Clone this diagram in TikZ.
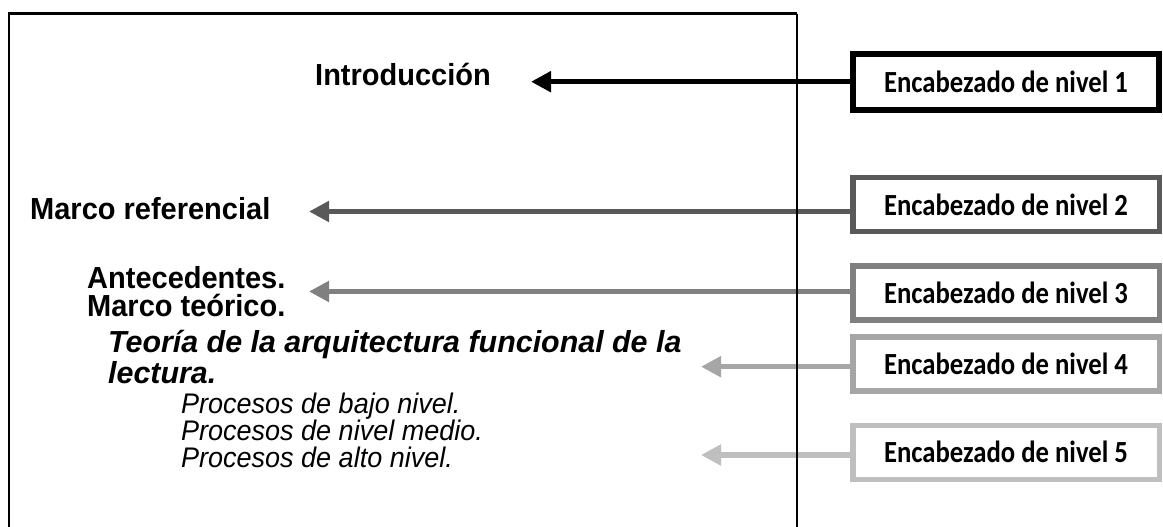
\documentclass[tikz,border=0pt]{standalone}
\usepackage{fontspec}
\usepackage{graphicx}
\setmainfont{Liberation Sans}
\newfontfamily\calib{Carlito}
\usetikzlibrary{arrows.meta}
\newcommand{\tallt}[1]{\scalebox{1}[1.05]{#1}}
\newcommand{\talll}[1]{\scalebox{1}[1.15]{#1}}
\begin{document}
\begin{tikzpicture}[x=1pt,y=-1pt,
  hbold/.style={anchor=base west, inner sep=0pt, font=\fontsize{29}{29}\selectfont\bfseries},
  hbi/.style={anchor=base west, inner sep=0pt, font=\fontsize{30.4}{30.4}\selectfont\bfseries\itshape},
  hit/.style={anchor=base west, inner sep=0pt, font=\fontsize{27}{27}\selectfont\itshape},
  lvlbox/.style={draw=#1, fill=white, line width=5.5pt, minimum width=306.5pt, minimum height=54pt, inner sep=0pt, font=\calib\fontsize{26.7}{26.7}\selectfont\bfseries},
  conn/.style={color=#1, line width=5.5pt, -{Triangle[length=20pt,width=20pt]}},
  pageline/.style={draw=black}
]
\useasboundingbox[fill=white] (0,0) rectangle (1163,527);

% level boxes
\node[lvlbox=black, line width=6pt, minimum width=306pt, minimum height=56pt] (b1) at (1006,82) {\talll{Encabezado de nivel 1}};
\node[lvlbox={black!65}] (b2) at (1006,204.5) {\talll{Encabezado de nivel 2}};
\node[lvlbox={black!50}] (b3) at (1006,292.8) {\talll{Encabezado de nivel 3}};
\node[lvlbox={black!35}] (b4) at (1006,364) {\talll{Encabezado de nivel 4}};
\node[lvlbox={black!25}] (b5) at (1006,452.3) {\talll{Encabezado de nivel 5}};

% headings text
\node[hbold] (intro) at (315,86) {\tallt{Introducción}};
\node[hbold] (marco) at (30,219) {\tallt{Marco referencial}};
\node[hbold] (antec) at (87,288) {\tallt{Antecedentes.}};
\node[hbold] (mteo) at (87,316) {\tallt{Marco teórico.}};
\node[hbi] (teoria) at (108,352) {Teoría de la arquitectura funcional de la};
\node[hbi] (lect) at (108,383) {lectura.};
\node[hit] (p1) at (181,413) {\tallt{Procesos de bajo nivel.}};
\node[hit] (p2) at (181,440) {\tallt{Procesos de nivel medio.}};
\node[hit] (p3) at (181,467) {\tallt{Procesos de alto nivel.}};

% arrow tips
\coordinate (t1) at (531,81.7);
\coordinate (t2) at (309,211.5);
\coordinate (t3) at (309,291.5);
\coordinate (t4) at (701,366.7);
\coordinate (t5) at (701,455);

\draw[conn=black] (b1.west |- t1) -- (t1);
\draw[conn={black!65}] (b2.west |- t2) -- (t2);
\draw[conn={black!50}] (b3.west |- t3) -- (t3);
\draw[conn={black!35}] (b4.west |- t4) -- (t4);
\draw[conn={black!25}] (b5.west |- t5) -- (t5);

% page outline
\draw[pageline, line width=2.5pt] (8.75,527) -- (8.75,13.75) -- (797,13.75);
\draw[pageline, line width=1.6pt] (797,13.75) -- (797,527);
\end{tikzpicture}
\end{document}
